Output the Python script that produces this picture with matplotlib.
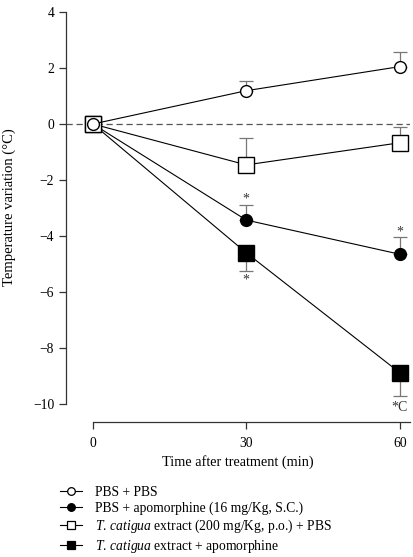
import matplotlib
matplotlib.use("Agg")
import matplotlib.pyplot as plt
from matplotlib.lines import Line2D

plt.rcParams['font.family'] = ['Liberation Serif', 'DejaVu Serif']
plt.rcParams['mathtext.fontset'] = 'custom'
plt.rcParams['mathtext.rm'] = 'Liberation Serif'
plt.rcParams['mathtext.it'] = 'Liberation Serif:italic'

time = [0, 30, 60]
pbs_pbs = [0, 1.19, 2.05]
pbs_pbs_err = [0, 0.36, 0.52]
pbs_apo = [0, -3.43, -4.65]
pbs_apo_err = [0, 0.55, 0.60]
tc_pbs = [0, -1.46, -0.67]
tc_pbs_err = [0, 0.95, 0.55]
tc_apo = [0, -4.60, -8.88]
tc_apo_err = [0, 0.64, 0.83]

labels = ["PBS + PBS",
          "PBS + apomorphine (16 mg/Kg, S.C.)",
          r"$\mathit{T.\,catigua}$ extract (200 mg/Kg, p.o.) + PBS",
          r"$\mathit{T.\,catigua}$ extract + apomorphine"]

fig = plt.figure(figsize=(4.13, 5.57), dpi=100)
ax = fig.add_axes([66/413, 1-421.7/557, (410-66)/413, (421.7-12)/557])

ax.set_ylim(-10.63, 4.0)
ax.set_xlim(-5.25, 62)

ax.axhline(0, color='#555555', lw=0.9, ls=(0, (5, 3)), zorder=1)

ecol = '#777777'
fs = 9.8

def series(y, err, lower, marker, mfc, ms, z):
    ax.plot(time, y, color='black', lw=0.8, zorder=z)
    zeros = [0] * (len(err) - 1)
    yerr = [err[1:], zeros] if lower else [zeros, err[1:]]
    ax.errorbar(time[1:], y[1:], yerr=yerr, fmt='none',
                ecolor=ecol, elinewidth=0.9, capsize=5, capthick=0.9, zorder=z)
    ax.plot(time, y, ls='none', marker=marker, mfc=mfc, mec='black', mew=1.0,
            ms=ms, zorder=z + 0.5)

series(pbs_apo, pbs_apo_err, False, 'o', 'black', 8.5, 3)
series(tc_apo, tc_apo_err, True, 's', 'black', 11, 4)
series(tc_pbs, tc_pbs_err, False, 's', 'white', 11, 5)
series(pbs_pbs, pbs_pbs_err, False, 'o', 'white', 8.5, 6)

# significance marks (offsets in points)
def mark(x, y, txt, dy):
    ax.annotate(txt, (x, y), xytext=(0, dy), textcoords='offset points',
                ha='center', va='center', fontsize=10, color='#333333')

mark(30, pbs_apo[1] + pbs_apo_err[1], '*', 4.0)
mark(60, pbs_apo[2] + pbs_apo_err[2], '*', 4.0)
mark(30, tc_apo[1] - tc_apo_err[1], '*', -6.5)
mark(60, tc_apo[2] - tc_apo_err[2], '*C', -8)

for s in ['top', 'right']:
    ax.spines[s].set_visible(False)
ax.spines['left'].set_bounds(-10, 4)
ax.spines['bottom'].set_bounds(0, 62)
for s in ['left', 'bottom']:
    ax.spines[s].set_linewidth(0.9)
    ax.spines[s].set_color('#333333')

ax.set_yticks([4, 2, 0, -2, -4, -6, -8, -10])
ax.set_yticklabels(['4', '2', '0', '\u22122', '\u22124', '\u22126', '\u22128', '\u221210'])
ax.set_xticks([0, 30, 60])
ax.tick_params(axis='both', direction='out', length=5, width=0.9, colors='#333333',
               labelsize=9.8, labelcolor='black')
ax.tick_params(axis='x', pad=6)

ax.set_ylabel('Temperature variation (\u00b0C)', fontsize=10.5)
ax.yaxis.set_label_coords((16 - 66) / 344, (421.7 - 207) / 409.7)
ax.set_xlabel('Time after treatment (min)', fontsize=10.3, labelpad=4)

handles = [
    Line2D([], [], color='black', lw=0.8, marker='o', mfc='white', mec='black', ms=5.5, mew=0.9),
    Line2D([], [], color='black', lw=0.8, marker='o', mfc='black', mec='black', ms=5.5, mew=0.9),
    Line2D([], [], color='black', lw=0.8, marker='s', mfc='white', mec='black', ms=5.5, mew=0.9),
    Line2D([], [], color='black', lw=0.8, marker='s', mfc='black', mec='black', ms=5.5, mew=0.9),
]
fig.legend(handles, labels, loc='upper left', bbox_to_anchor=(60/413, 1-486/557),
           frameon=False, fontsize=fs, handlelength=1.6, handletextpad=0.95,
           labelspacing=0.2, borderaxespad=0, borderpad=0)

fig.savefig('out.png', dpi=100)
